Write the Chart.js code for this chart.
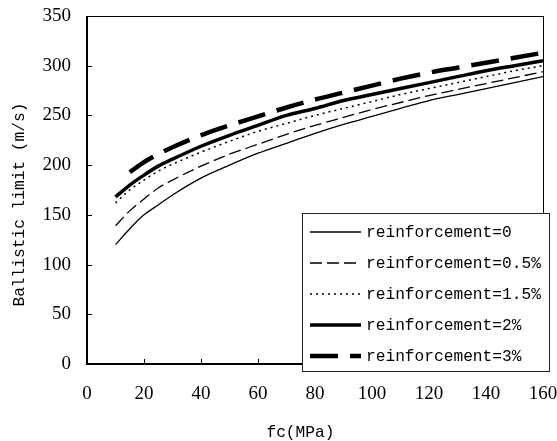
<!DOCTYPE html>
<html>
<head>
<meta charset="utf-8">
<script src="https://cdn.jsdelivr.net/npm/chart.js@4.4.1/dist/chart.umd.min.js"></script>
<style>
html, body { margin: 0; padding: 0; background: #fff; }
</style>
</head>
<body>
<canvas id="grafico" width="557" height="441"></canvas>
<script>
// Valores
const fc = [10, 15, 20, 25, 30, 40, 50, 60, 70, 80, 90, 100, 110, 120, 130, 140, 150, 160];
const fc3 = [15, 20, 25, 30, 40, 50, 60, 70, 80, 90, 100, 110, 120, 130, 140, 150, 160];

const v0   = [120, 136, 150, 160, 170, 187, 200, 212, 222, 232, 241, 249, 257, 265, 271, 277, 283, 289];
const v05  = [139, 154, 166, 177, 185, 199, 211, 221, 231, 240, 248, 256, 263, 270, 276, 282, 288, 294];
const v15  = [162, 175, 185, 194, 201, 213, 224, 234, 242, 250, 257, 264, 271, 277, 283, 289, 295, 300];
const v2   = [168, 180, 190, 199, 206, 219, 230, 240, 250, 257, 265, 271, 277, 283, 289, 295, 300, 305];
const v3   = [193, 203, 211, 218, 230, 240, 249, 258, 266, 273, 280, 287, 293, 298, 303, 308, 313];

const nomes = ['reinforcement=0', 'reinforcement=0.5%', 'reinforcement=1.5%', 'reinforcement=2%', 'reinforcement=3%'];

const fonteNum = 'Liberation Serif';
const fonteTxt = 'Liberation Mono';
const tamTxt = 16.2;

function pontos(xs, ys) {
    return xs.map((x, i) => ({ x: x, y: ys[i] }));
}

function serie(nome, xs, ys, largura, traco) {
    return {
        label: nome,
        data: pontos(xs, ys),
        borderColor: '#000',
        backgroundColor: '#000',
        borderWidth: largura,
        borderDash: traco,
        pointRadius: 0,
        fill: false,
        cubicInterpolationMode: 'monotone'
    };
}

// Moldura do gráfico com marcas para dentro
const molduraEixos = {
    id: 'molduraEixos',
    afterDraw(chart) {
        const ctx = chart.ctx;
        const { left, right, top, bottom } = chart.chartArea;
        const sx = chart.scales.x, sy = chart.scales.y;
        ctx.save();
        ctx.strokeStyle = '#000';
        ctx.lineWidth = 1;
        ctx.strokeRect(left + 0.5, top + 0.5, right - left, bottom - top);
        ctx.lineWidth = 2;
        ctx.beginPath();
        ctx.moveTo(left, top);
        ctx.lineTo(left, bottom);
        ctx.lineTo(right, bottom);
        ctx.stroke();
        ctx.lineWidth = 1;
        sx.ticks.forEach(t => {
            const px = Math.round(sx.getPixelForValue(t.value)) + 0.5;
            ctx.beginPath();
            ctx.moveTo(px, bottom);
            ctx.lineTo(px, bottom - 5);
            ctx.stroke();
        });
        sy.ticks.forEach(t => {
            const py = Math.round(sy.getPixelForValue(t.value)) + 0.5;
            ctx.beginPath();
            ctx.moveTo(left, py);
            ctx.lineTo(left + 5, py);
            ctx.stroke();
        });
        ctx.restore();
    }
};

// Legenda desenhada em caixa, como no original
const legendaCaixa = {
    id: 'legendaCaixa',
    afterDraw(chart) {
        const ctx = chart.ctx;
        const bx = 302, by = 213, bw = 247, bh = 158;
        ctx.save();
        ctx.fillStyle = '#fff';
        ctx.fillRect(bx, by, bw, bh);
        ctx.strokeStyle = '#222';
        ctx.lineWidth = 1;
        ctx.strokeRect(bx + 0.5, by + 0.5, bw, bh);
        ctx.font = tamTxt + 'px "' + fonteTxt + '"';
        ctx.textBaseline = 'middle';
        ctx.fillStyle = '#000';
        chart.data.datasets.forEach((ds, i) => {
            const cy = 232 + i * 31;
            ctx.strokeStyle = '#000';
            ctx.lineWidth = ds.borderWidth;
            ctx.setLineDash(ds.borderDash || []);
            ctx.beginPath();
            ctx.moveTo(310, cy);
            ctx.lineTo(361, cy);
            ctx.stroke();
            ctx.setLineDash([]);
            ctx.fillText(ds.label, 366, cy + 1);
        });
        ctx.restore();
    }
};

new Chart(document.getElementById('grafico').getContext('2d'), {
    type: 'line',
    data: {
        datasets: [
            serie(nomes[0], fc, v0, 1.3, []),
            serie(nomes[1], fc, v05, 1.3, [12, 5]),
            serie(nomes[2], fc, v15, 1.5, [2, 4]),
            serie(nomes[3], fc, v2, 3.5, []),
            serie(nomes[4], fc3, v3, 4.5, [28, 12])
        ]
    },
    options: {
        responsive: false,
        animation: false,
        layout: { padding: { left: 0, top: 16, right: 14, bottom: 0 } },
        plugins: {
            legend: { display: false },
            tooltip: { enabled: false }
        },
        scales: {
            x: {
                type: 'linear',
                min: 0,
                max: 160,
                grid: { display: false, drawTicks: false },
                border: { display: false },
                ticks: {
                    stepSize: 20,
                    padding: 19,
                    color: '#000',
                    font: { family: fonteNum, size: 19 }
                },
                title: {
                    display: true,
                    text: 'fc(MPa)   ',
                    color: '#000',
                    font: { family: fonteTxt, size: tamTxt, lineHeight: 1 },
                    padding: { top: 0, bottom: 0 }
                },
                afterFit(scale) {
                    scale.height = 77;
                    scale.paddingLeft = 0;
                    scale.paddingRight = 0;
                }
            },
            y: {
                min: 0,
                max: 350,
                grid: { display: false, drawTicks: false },
                border: { display: false },
                ticks: {
                    stepSize: 50,
                    padding: 16,
                    color: '#000',
                    font: { family: fonteNum, size: 19 }
                },
                title: {
                    display: true,
                    text: 'Ballistic limit (m/s)   ',
                    color: '#000',
                    font: { family: fonteTxt, size: tamTxt, lineHeight: 1 },
                    padding: { top: 12, bottom: 0 }
                },
                afterFit(scale) {
                    scale.width = 87;
                    scale.paddingTop = 0;
                    scale.paddingBottom = 0;
                }
            }
        }
    },
    plugins: [molduraEixos, legendaCaixa]
});
</script>
</body>
</html>
